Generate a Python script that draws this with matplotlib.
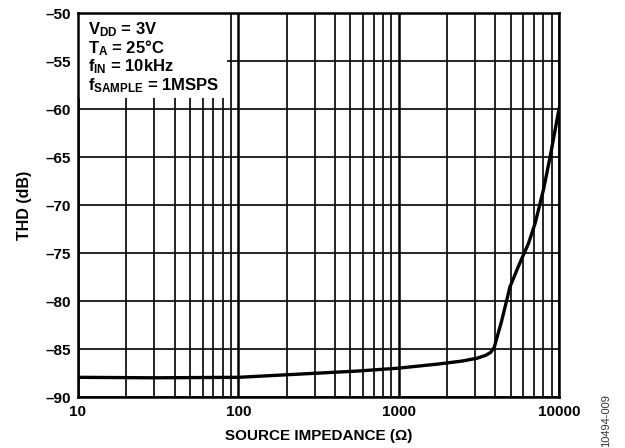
import numpy as np
import matplotlib
matplotlib.use("Agg")
import matplotlib.pyplot as plt
from matplotlib.patches import Rectangle
from matplotlib.ticker import FixedLocator, FuncFormatter, NullFormatter

plt.rcParams['font.family'] = ['Liberation Sans', 'DejaVu Sans']
plt.rcParams['mathtext.fontset'] = 'custom'
plt.rcParams['mathtext.rm'] = 'Liberation Sans:bold'
plt.rcParams['mathtext.bf'] = 'Liberation Sans:bold'
plt.rcParams['mathtext.it'] = 'Liberation Sans:bold'

# source impedance (ohm) and THD (dB)
impedance = [10, 30, 100, 285, 550, 990, 1800, 2500, 3100, 3500, 3750, 3950,
             4400, 4950, 5580, 6450, 7100, 8000, 8800, 10000]
thd = [-87.95, -88.0, -87.95, -87.55, -87.3, -87.0, -86.55, -86.25, -85.95,
       -85.65, -85.35, -84.8, -82.0, -78.5, -76.4, -74.0, -71.9, -68.4,
       -65.0, -60.0]

x_ticks = [10, 100, 1000, 10000]
y_ticks = [-90, -85, -80, -75, -70, -65, -60, -55, -50]

conditions = [r'$V_{DD}$ = 3V', r'$T_A$ = 25°C', r'$f_{IN}$ = 10kHz',
              r'$f_{SAMPLE}$ = 1MSPS']

fig = plt.figure(figsize=(6.25, 4.48), dpi=100)
ax = fig.add_axes([78 / 625, 1 - 397 / 448, 481 / 625, 384 / 448])

ax.set_xscale('log')
ax.set_xlim(10, 10000)
ax.set_ylim(-90, -50)

ax.xaxis.set_major_locator(FixedLocator(x_ticks))
ax.xaxis.set_minor_locator(FixedLocator(
    [m * d for d in (10, 100, 1000) for m in range(2, 10)]))
ax.xaxis.set_minor_formatter(NullFormatter())
ax.xaxis.set_major_formatter(FuncFormatter(lambda v, p: f'{int(v)}'))
ax.yaxis.set_major_locator(FixedLocator(y_ticks))
ax.yaxis.set_major_formatter(FuncFormatter(
    lambda v, p: f'–{abs(int(v))}' if v < 0 else f'{int(v)}'))

ax.grid(which='major', axis='x', color='black', linewidth=1.8)
ax.grid(which='minor', axis='x', color='black', linewidth=1.2)
ax.grid(which='major', axis='y', color='black', linewidth=1.2)
ax.tick_params(which='both', length=0, labelsize=11)
ax.tick_params(axis='x', pad=6)
ax.tick_params(axis='y', pad=5)
for lbl in ax.get_xticklabels() + ax.get_yticklabels():
    lbl.set_fontweight('bold')
for s in ax.spines.values():
    s.set_linewidth(1.8)

ax.plot(impedance, thd, color='black', linewidth=2.4, zorder=3,
        solid_joinstyle='round')

ax.add_patch(Rectangle((0, 1 - 0.221), 0.31, 0.221, transform=ax.transAxes,
                       facecolor='white', edgecolor='none', zorder=2.5))
for i, line in enumerate(conditions):
    ax.text(0.02, 1 - (17 + 18.4 * i) / 384, line, transform=ax.transAxes,
            fontsize=12, fontweight='bold', va='center', ha='left', zorder=4)

ax.set_xlabel('SOURCE IMPEDANCE (Ω)', fontsize=11, fontweight='bold',
              labelpad=7)
ax.set_ylabel('THD (dB)', fontsize=11.5, fontweight='bold', labelpad=10)

fig.text(606 / 625, 1 - 421 / 448, '10494-009', rotation=90, fontsize=8,
         ha='center', va='center', color='#333333')

fig.savefig('out.png', dpi=100)
plt.close(fig)
